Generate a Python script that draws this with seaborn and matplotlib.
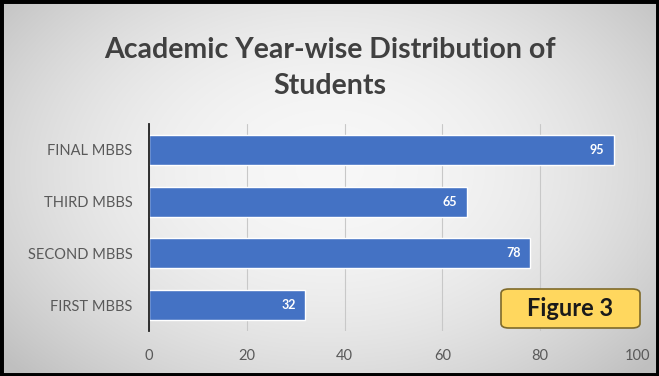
import numpy as np
import pandas as pd
import matplotlib
matplotlib.use("Agg")
import matplotlib.pyplot as plt
import seaborn as sns
from matplotlib.patches import FancyBboxPatch, Rectangle

categories = ["FINAL MBBS", "THIRD MBBS", "SECOND MBBS", "FIRST MBBS"]
students = [95, 65, 78, 32]
x_ticks = [0, 20, 40, 60, 80, 100]

df = pd.DataFrame({"year": categories, "students": students})

sns.set_theme(style="white")
plt.rcParams["font.family"] = ["Lato", "DejaVu Sans"]

W, H = 659, 376
fig = plt.figure(figsize=(W / 100, H / 100), dpi=100)

# background gradient (styling only)
bg = fig.add_axes([0, 0, 1, 1], zorder=-10)
yy, xx = np.mgrid[0:H, 0:W]
dx = (xx - W * 0.5) / (W * 0.5)
dy = (yy - H * 0.45) / (H * 0.6)
r = np.sqrt(dx ** 2 + dy ** 2)
val = 0.97 - 0.13 * np.clip(r, 0, 1.3) ** 2
img = np.dstack([val, val, val])
bg.imshow(img, extent=[0, 1, 0, 1], aspect="auto", origin="upper")
bg.set_axis_off()
bg.add_patch(Rectangle((0, 0), 1, 1, transform=bg.transAxes, fill=False,
                       edgecolor="black", linewidth=5))

ax = fig.add_axes([149 / W, 1 - 331 / H, (638 - 149) / W, 207 / H])
ax.patch.set_alpha(0)
sns.barplot(data=df, y="year", x="students", orient="h", color="#4472C4",
            saturation=1, width=0.58, ax=ax)
ax.set_xlim(0, 100)
ax.set_ylim(3.5, -0.5)
ax.set_xticks(x_ticks)
ax.set_xticklabels([str(t) for t in x_ticks])
ax.xaxis.grid(True, color="#c8c8c8", linewidth=0.8)
ax.set_axisbelow(True)
for s in ["top", "right", "bottom"]:
    ax.spines[s].set_visible(False)
ax.spines["left"].set_color("#202020")
ax.spines["left"].set_linewidth(1.3)
ax.set_xlabel("")
ax.set_ylabel("")
ax.tick_params(axis="both", length=0, labelsize=10.5, labelcolor="#595959")
ax.tick_params(axis="x", pad=13)
ax.tick_params(axis="y", pad=12)

for i, v in enumerate(students):
    ax.text(v - 2, i, str(v), ha="right", va="center", color="white",
            fontsize=9, fontweight="bold")

fig.text(0.5, 1 - 50 / H, "Academic Year-wise Distribution of", ha="center",
         va="center", fontsize=20.5, fontweight="bold", color="#404040")
fig.text(0.5, 1 - 86 / H, "Students", ha="center", va="center",
         fontsize=20.5, fontweight="bold", color="#404040")

box = FancyBboxPatch((501 / W, 1 - 328 / H), 139 / W, 39 / H,
                     boxstyle="round,pad=0,rounding_size=0.012",
                     transform=fig.transFigure, facecolor="#FFD75E",
                     edgecolor="#7f6a2a", linewidth=1.2, zorder=5)
fig.patches.append(box)
fig.text(570 / W, 1 - 309 / H, "Figure 3", ha="center", va="center",
         fontsize=17, fontweight="bold", color="#1a1a1a", zorder=6)

fig.savefig("out.png", dpi=100)
